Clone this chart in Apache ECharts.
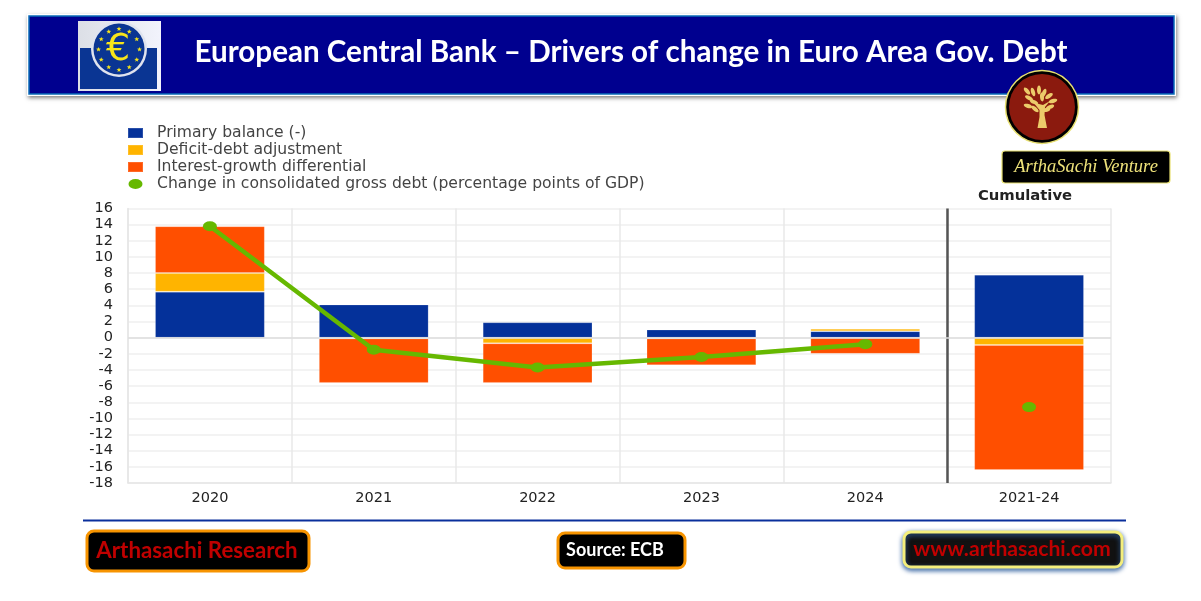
<!DOCTYPE html>
<html>
<head>
<meta charset="utf-8">
<style>
  html, body { margin: 0; padding: 0; background: #fff; }
  #chart { width: 1201px; height: 601px; }
</style>
<script src="https://cdn.jsdelivr.net/npm/echarts@6/dist/echarts.min.js"></script>
</head>
<body>
<div id="chart"></div>
<script>
const categories = ['2020', '2021', '2022', '2023', '2024', '2021-24']
const primaryBalance = [5.7, 4.1, 1.9, 1.0, 0.8, 7.8]
const deficitDebt = [2.3, -0.1, -0.7, -0.1, 0.3, -0.9]
const interestGrowth = [5.8, -5.5, -4.9, -3.3, -2.0, -15.5]
const debtChange = [13.8, -1.5, -3.7, -2.4, -0.8, null]
const debtChangeCumulative = [null, null, null, null, null, -8.6]

const names = [
  'Primary balance (-)',
  'Deficit-debt adjustment',
  'Interest-growth differential',
  'Change in consolidated gross debt (percentage points of GDP)'
]
const ellipse = 'path://M0,5a7,5 0 1,0 14,0a7,5 0 1,0 -14,0z'
const GREEN = '#66b800'
const GOLD = '#eccb6a'

function starPoints(cx, cy, r) {
  const pts = []
  for (let i = 0; i < 10; i++) {
    const a = -Math.PI / 2 + i * Math.PI / 5
    const rr = i % 2 ? r * 0.42 : r
    pts.push([cx + rr * Math.cos(a), cy + rr * Math.sin(a)])
  }
  return pts
}

function badge(x, y, w, h, border, fill, shadow) {
  return {
    type: 'rect',
    shape: { x, y, width: w, height: h, r: 7 },
    style: {
      fill, stroke: border, lineWidth: 3,
      shadowBlur: shadow ? 5 : 0, shadowColor: '#2f5f9f', shadowOffsetY: shadow ? 2 : 0
    }
  }
}

function label(x, y, text, size, color, extra) {
  return {
    type: 'text', z: 20, x, y,
    style: Object.assign({
      text, fill: color, align: 'center', verticalAlign: 'middle',
      font: `bold ${size}px "Lato"`
    }, extra)
  }
}

// banner + ECB logo
const graphics = [
  {
    type: 'rect',
    shape: { x: 27, y: 14, width: 1149, height: 82 },
    style: { fill: '#fff', shadowBlur: 4, shadowColor: 'rgba(0,0,0,.5)', shadowOffsetX: 1, shadowOffsetY: 2 }
  },
  {
    type: 'rect',
    shape: { x: 29, y: 16, width: 1145, height: 78 },
    style: { fill: '#00008f', stroke: '#0a6cb8', lineWidth: 1.5 }
  },
  { type: 'rect', shape: { x: 78, y: 21, width: 83, height: 70 },
    style: { fill: new echarts.graphic.LinearGradient(0, 0, 1, 0, [{ offset: 0, color: '#dcdfe6' }, { offset: 1, color: '#f2f3fc' }]) } },
  { type: 'rect', shape: { x: 80, y: 48, width: 77, height: 41 }, style: { fill: '#0a3593' } },
  { type: 'circle', shape: { cx: 119, cy: 49, r: 28 }, style: { fill: '#dfe3ee' } },
  { type: 'circle', shape: { cx: 119, cy: 49, r: 25.5 }, style: { fill: '#0a3593' } },
  label(118, 50, '€', 38, '#f7e51a', { font: '38px "DejaVu Sans"' })
]
for (let i = 0; i < 12; i++) {
  const a = i * Math.PI / 6
  graphics.push({
    type: 'polygon',
    shape: { points: starPoints(119 + 20.5 * Math.cos(a), 49.5 + 20.5 * Math.sin(a), 2.6) },
    style: { fill: '#f7e51a' }
  })
}
graphics.push(label(631, 52, 'European Central Bank – Drivers of change in Euro Area Gov. Debt', 29.6, '#fff'))

// ArthaSachi badge
graphics.push(
  { type: 'circle', z: 10, shape: { cx: 1042, cy: 107, r: 36.5 }, style: { fill: '#000', stroke: '#e8e070', lineWidth: 1.5 } },
  { type: 'circle', z: 10, shape: { cx: 1042, cy: 107, r: 33 }, style: { fill: '#8b1a0e' } },
  { type: 'polygon', z: 11, shape: { points: [[1037.5, 128], [1047, 128], [1044.5, 115], [1045, 107], [1050, 101], [1043, 105], [1039, 104], [1033, 102], [1039.5, 110], [1039.5, 117]] }, style: { fill: GOLD } }
)
const leaves = [[1027, 91, .7], [1033, 92, .3], [1039, 90, 0], [1044, 93, -.4], [1049, 96, -1], [1053, 101, -1.3], [1050, 107, -1.2],
  [1046, 110, -1.4], [1029, 98, 1.1], [1034, 102, 1.2], [1028, 106, 1.3], [1035, 109, .9], [1042, 97, .1]]
leaves.forEach(l => graphics.push({
  type: 'ellipse', z: 11, x: l[0], y: l[1], rotation: l[2],
  shape: { cx: 0, cy: 0, rx: 2, ry: 4.4 }, style: { fill: GOLD }
}))
graphics.push(
  { type: 'rect', z: 10, shape: { x: 1002, y: 151, width: 168, height: 32, r: 3 }, style: { fill: '#000', stroke: '#e8e070', lineWidth: 1.2 } },
  label(1086, 167.5, 'ArthaSachi Venture', 18.5, '#eee27a', { font: 'italic 18.5px "Liberation Serif"' })
)

// footer
graphics.push(
  { type: 'rect', shape: { x: 83, y: 519.5, width: 1043, height: 2 }, style: { fill: '#0a2f9c' } },
  badge(87, 531, 222, 40, '#f79400', '#000'),
  label(197, 551, 'Arthasachi Research', 22.3, '#c00000'),
  badge(558, 533, 127, 35, '#f79400', '#000'),
  label(615, 550, 'Source: ECB', 18, '#fff'),
  badge(904, 532, 218, 35, '#f4ee7c', '#111', true),
  label(1012, 549, 'www.arthasachi.com', 21.2, '#c00000'),
  { type: 'text', x: 1025, y: 196, style: { text: 'Cumulative', fill: '#222', align: 'center', verticalAlign: 'middle', font: 'bold 14.8px "DejaVu Sans"' } }
)

const barSeries = (name, data, color) => ({
  name, data, type: 'bar', stack: 'debt', barWidth: '67%', z: 2,
  itemStyle: { color, borderColor: 'rgba(255,255,255,.15)', borderWidth: 1 }
})
const lineSeries = data => ({
  name: names[3], data, type: 'line', z: 5, showSymbol: true, symbol: ellipse, symbolSize: [14, 10],
  connectNulls: false, itemStyle: { color: GREEN }, lineStyle: { color: GREEN, width: 4.5 }
})

const myChart = echarts.init(document.getElementById('chart'))
myChart.setOption({
  animation: false,
  backgroundColor: '#fff',
  textStyle: { fontFamily: '"DejaVu Sans"' },
  graphic: graphics,
  legend: {
    orient: 'vertical',
    left: 127,
    top: 125,
    padding: 0,
    itemWidth: 15,
    itemHeight: 10,
    itemGap: 1,
    selectedMode: false,
    textStyle: { fontSize: 15.6, lineHeight: 14, color: '#444', fontFamily: '"DejaVu Sans"', padding: [0, 0, 0, 9] },
    data: [
      { name: names[0], icon: 'rect' },
      { name: names[1], icon: 'rect' },
      { name: names[2], icon: 'rect' },
      { name: names[3], icon: ellipse }
    ]
  },
  grid: { left: 128, right: 90, top: 208.5, bottom: 118 },
  xAxis: [
    {
      type: 'category',
      data: categories,
      axisLine: { onZero: false, lineStyle: { color: '#e6e6e6', width: 1.5 } },
      axisTick: { show: false },
      axisLabel: { color: '#222', fontSize: 14.5, margin: 8 },
      splitLine: { show: true, lineStyle: { color: '#e8e8e8', width: 1.5 } }
    },
    // helper axis, only for placing the divider between the last two categories
    { type: 'value', min: 0, max: categories.length, show: false }
  ],
  yAxis: {
    type: 'value',
    min: -18,
    max: 16,
    interval: 2,
    axisLine: { show: true, lineStyle: { color: '#e6e6e6', width: 1.5 } },
    axisTick: { show: false },
    axisLabel: { color: '#222', fontSize: 14.5, margin: 15, padding: [2, 0, 0, 0] },
    splitLine: { lineStyle: { color: '#efefef', width: 1.5 } }
  },
  series: [
    barSeries(names[0], primaryBalance, '#04319a'),
    barSeries(names[1], deficitDebt, '#ffb400'),
    barSeries(names[2], interestGrowth, '#ff4f00'),
    lineSeries(debtChange),
    lineSeries(debtChangeCumulative),
    {
      type: 'line',
      xAxisIndex: 1,
      data: [],
      silent: true,
      markLine: {
        silent: true,
        symbol: 'none',
        label: { show: false },
        data: [
          { xAxis: 5, lineStyle: { color: '#555', width: 2.5, type: 'solid' } },
          { yAxis: 0, lineStyle: { color: '#dedede', width: 1.5, type: 'solid' } }
        ]
      }
    }
  ]
})
</script>
</body>
</html>
